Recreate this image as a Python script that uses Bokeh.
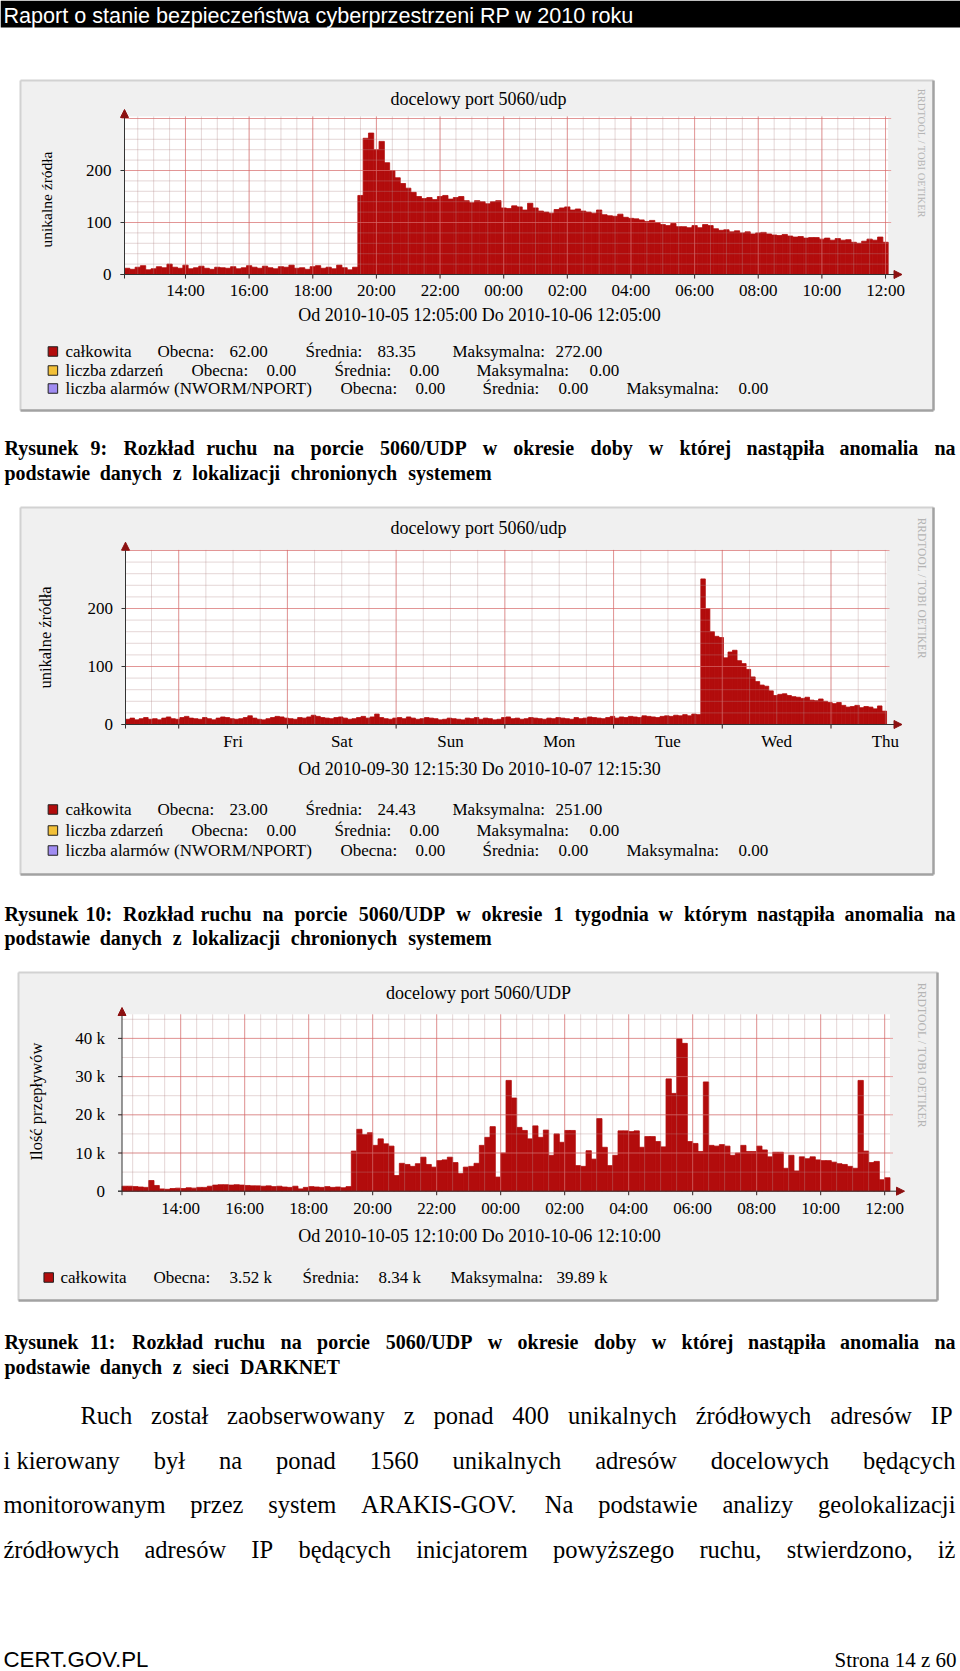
import math
from bokeh.plotting import figure
from bokeh.models import Range1d, Arrow, NormalHead
from bokeh.core.properties import value
from bokeh.embed import file_html
from bokeh.resources import INLINE

W, H = 960, 1671
SERIF = value("Liberation Serif")
SANS = value("Liberation Sans")

# ============================ DATA ============================
HEADER_TEXT = "Raport o stanie bezpieczeństwa cyberprzestrzeni RP w 2010 roku"

SERIES_NAMES = ["całkowita", "liczba zdarzeń", "liczba alarmów (NWORM/NPORT)"]

# --- chart 1: unique sources, one day, 10-minute steps from 12:05 ---
C1_TITLE = "docelowy port 5060/udp"
C1_YLABEL = "unikalne źródła"
C1_PERIOD = "Od 2010-10-05 12:05:00 Do 2010-10-06 12:05:00"
C1_START_HOUR = 12 + 5 / 60
C1_STEP_H = 10 / 60
C1_VALUES = [
    12, 10, 14, 17, 9, 11, 15, 13, 20, 14,
    12, 18, 11, 13, 16, 12, 10, 14, 13, 12,
    15, 11, 13, 17, 14, 12, 16, 13, 11, 15,
    14, 18, 12, 13, 10, 15, 17, 12, 14, 11,
    18, 13, 9, 14,
    152, 262, 272, 240, 256, 215, 200, 186, 175, 166,
    158, 150, 146, 148, 144, 150, 152, 145, 148, 150,
    142, 138, 142, 140, 136, 140, 142, 128, 127, 132,
    130, 124, 137, 128, 122, 120, 118, 125, 128, 130,
    124, 126, 122, 120, 118, 124, 115, 113, 112, 116,
    110, 108, 107, 105, 102, 104, 100, 96, 94, 98,
    92, 92, 90, 94, 90, 96, 94, 88, 85, 86,
    82, 84, 80, 82, 78, 80, 81, 78, 76, 75,
    77, 74, 72, 73, 70, 71, 71, 68, 70, 66,
    69, 66, 67, 62, 60, 64, 68, 66, 72, 62,
]
C1_XTICK_LABELS = ["14:00", "16:00", "18:00", "20:00", "22:00", "00:00",
                   "02:00", "04:00", "06:00", "08:00", "10:00", "12:00"]
C1_YTICKS = [0, 100, 200]
C1_YTICK_LABELS = ["0", "100", "200"]
C1_LEGEND = [
    [SERIES_NAMES[0], "Obecna:", "62.00", "Średnia:", "83.35", "Maksymalna:", "272.00"],
    [SERIES_NAMES[1], "Obecna:", "0.00", "Średnia:", "0.00", "Maksymalna:", "0.00"],
    [SERIES_NAMES[2], "Obecna:", "0.00", "Średnia:", "0.00", "Maksymalna:", "0.00"],
]

# --- chart 2: unique sources, one week, hourly steps from Thu 12:15:30 ---
C2_TITLE = "docelowy port 5060/udp"
C2_YLABEL = "unikalne źródła"
C2_PERIOD = "Od 2010-09-30 12:15:30 Do 2010-10-07 12:15:30"
C2_START_HOUR = 12 + 15.5 / 60
C2_STEP_H = 1.0
C2_VALUES = [
    9, 11, 8, 10, 12, 9, 10, 8, 11, 13, 10, 9, 12, 14, 11, 10, 9, 12, 10, 8, 11, 13, 12, 10,
    9, 10, 12, 15, 11, 9, 8, 10, 12, 14, 13, 11, 10, 9, 12, 11, 13, 16, 14, 12, 11, 10, 12, 13,
    11, 9, 10, 12, 14, 11, 13, 18, 12, 10, 9, 11, 12, 10, 13, 11, 9, 10, 12, 11, 10, 8, 9, 11,
    10, 9, 8, 11, 10, 12, 9, 11, 10, 8, 9, 12, 13, 10, 11, 9, 10, 12, 11, 10, 9, 11, 10, 12,
    11, 10, 9, 12, 10, 11, 13, 12, 11, 10, 12, 14, 11, 13, 12, 14, 13, 12, 15, 14, 13, 12, 14, 15,
    14, 16, 15, 17, 15, 18, 17,
    251, 200, 160, 152, 150, 115, 125, 128, 110, 105,
    95, 82, 74, 68, 66, 58, 50, 52, 53, 50,
    48, 47, 45, 47, 42, 41, 44, 40, 38, 36,
    38, 33, 30, 31, 33, 29, 31, 30, 27, 32,
    23,
]
C2_XTICK_LABELS = ["Fri", "Sat", "Sun", "Mon", "Tue", "Wed", "Thu"]
C2_YTICKS = [0, 100, 200]
C2_YTICK_LABELS = ["0", "100", "200"]
C2_LEGEND = [
    [SERIES_NAMES[0], "Obecna:", "23.00", "Średnia:", "24.43", "Maksymalna:", "251.00"],
    [SERIES_NAMES[1], "Obecna:", "0.00", "Średnia:", "0.00", "Maksymalna:", "0.00"],
    [SERIES_NAMES[2], "Obecna:", "0.00", "Średnia:", "0.00", "Maksymalna:", "0.00"],
]

# --- chart 3: flows (thousands), one day, 10-minute steps from 12:10 ---
C3_TITLE = "docelowy port 5060/UDP"
C3_YLABEL = "Ilość przepływów"
C3_PERIOD = "Od 2010-10-05 12:10:00 Do 2010-10-06 12:10:00"
C3_START_HOUR = 12 + 10 / 60
C3_STEP_H = 10 / 60
C3_VALUES = [
    1.3, 1.3, 1.2, 1.1, 1.0, 2.8, 1.5, 0.6, 0.5, 0.7,
    0.8, 0.7, 0.9, 0.8, 1.0, 1.0, 1.3, 1.6, 1.7, 1.7,
    1.6, 1.7, 1.6, 1.5, 1.4, 1.4, 1.3, 1.4, 1.2, 1.3,
    1.1, 1.0, 1.3, 0.6, 1.0, 1.2, 1.1, 1.0, 1.2, 1.0,
    1.1, 0.9, 1.2,
    10.5, 16.2, 14.8, 15.3, 12.0, 13.7, 12.4, 11.8, 4.1, 7.3, 7.0, 6.5, 7.2,
    8.9, 7.0, 6.3, 8.0, 8.2, 8.9, 7.5, 4.6, 6.3, 6.5,
    7.3, 12.0, 14.1, 16.9, 3.7, 10.0, 29.0, 24.4, 16.7, 15.9,
    13.7, 17.1, 14.1, 16.0, 9.4, 15.0, 12.8, 15.9, 15.9, 6.7,
    6.5, 10.6, 8.4, 19.0, 11.5, 6.7, 9.4, 15.8, 15.8, 15.6,
    15.8, 11.5, 14.3, 14.3, 13.0, 11.6, 29.4, 25.6, 39.89, 38.7,
    13.0, 12.5, 10.4, 28.6, 12.0, 11.8, 12.2, 11.8, 9.4, 10.0,
    12.0, 10.4, 10.4, 11.8, 10.8, 9.0, 10.2, 10.2, 6.0, 9.4,
    5.3, 9.0,
    8.5, 9.0, 8.2, 8.0, 8.0, 7.6, 7.2, 7.0, 6.5, 6.0, 29.0, 10.5, 7.5, 7.8, 3.0, 3.52,
]
C3_XTICK_LABELS = C1_XTICK_LABELS
C3_YTICKS = [0, 10, 20, 30, 40]
C3_YTICK_LABELS = ["0", "10 k", "20 k", "30 k", "40 k"]
C3_LEGEND = [
    [SERIES_NAMES[0], "Obecna:", "3.52 k", "Średnia:", "8.34 k", "Maksymalna:", "39.89 k"],
]

CAPTION_1 = ["Rysunek 9: Rozkład ruchu na porcie 5060/UDP w okresie doby w której nastąpiła anomalia na",
             "podstawie danych z lokalizacji chronionych systemem"]
CAPTION_2 = ["Rysunek 10: Rozkład ruchu na porcie 5060/UDP w okresie 1 tygodnia w którym nastąpiła anomalia na",
             "podstawie danych z lokalizacji chronionych systemem"]
CAPTION_3 = ["Rysunek 11: Rozkład ruchu na porcie 5060/UDP w okresie doby w której nastąpiła anomalia na",
             "podstawie danych z sieci DARKNET"]
BODY = ["Ruch został zaobserwowany z ponad 400 unikalnych źródłowych adresów IP",
        "i\u00a0kierowany był na ponad 1560 unikalnych adresów docelowych będących",
        "monitorowanym przez system ARAKIS-GOV. Na podstawie analizy geolokalizacji",
        "źródłowych adresów IP będących inicjatorem powyższego ruchu, stwierdzono, iż"]
FOOTER_LEFT = "CERT.GOV.PL"
FOOTER_RIGHT = "Strona 14 z 60"

# ============================ STYLE ============================
BAR_COLOR = "#b20c0c"
LEGEND_COLORS = ["#b20c0c", "#f2c038", "#a08cf2"]
CANVAS_BG = "#f0f0f0"
MINOR_GRID = "#b48c8c"
MAJOR_GRID = "#e06060"
AXIS_COLOR = "#333333"
ARROW_COLOR = "#8c1010"

# Times / Liberation Serif advance widths (1/1000 em)
def _table(spec):
    t = {}
    for group, w in spec:
        for ch in group:
            t[ch] = w
    return t

TIMES_R = _table([(" ,.\u00a0", 250), ("0123456789", 500), (":/", 278), ("-()", 333),
                  ("ADGHKNOQUVXY", 722), ("BCR", 667), ("ELTZ", 611), ("FPS", 556), ("I", 333),
                  ("J", 389), ("M", 889), ("W", 944), ("Ś", 556),
                  ("aceząćęźż", 444), ("bdghknopquvxyńó", 500), ("f", 333), ("ijltł", 278),
                  ("m", 778), ("r", 333), ("sś", 389), ("w", 722)])
TIMES_B = _table([(" ,.\u00a0", 250), ("0123456789", 500), ("/", 278), (":-", 333),
                  ("ACDNUVXY", 722), ("B", 667), ("ELTZ", 667), ("F", 611), ("P", 611),
                  ("GHKOQ", 778), ("I", 389), ("J", 500), ("M", 944), ("W", 1000), ("S", 556),
                  ("agovxyąó", 500), ("bdhknpquń", 556), ("ceźżęć", 444), ("f", 333),
                  ("iltł", 278), ("j", 333), ("m", 833), ("r", 444), ("sś", 389), ("w", 722),
                  ("z", 444)])


def word_positions(words, x0, x1, size, table):
    widths = [sum(table.get(ch, 500) for ch in w) * size / 1000 for w in words]
    if x1 is None or len(words) < 2:
        gap = 0.25 * size
    else:
        gap = (x1 - x0 - sum(widths)) / (len(words) - 1)
    xs, x = [], x0
    for w in widths:
        xs.append(x)
        x += w + gap
    return xs


def grid_times(start_hour, span, period):
    t = math.ceil(start_hour / period - 1e-9) * period - start_hour
    out = []
    while t <= span + 1e-9:
        out.append(t)
        t += period
    return out


def clock_positions(labels, start_hour):
    out = []
    for lab in labels:
        hh, mm = lab.split(":")
        out.append((int(hh) + int(mm) / 60 - start_hour) % 24)
    return out


p = figure(width=W, height=H, x_range=Range1d(0, W), y_range=Range1d(H, 0),
           x_axis_type=None, y_axis_type=None, toolbar_location=None,
           output_backend="svg", min_border=0, outline_line_color=None,
           background_fill_color="white", border_fill_color="white")

# header
p.quad(left=0, right=W, top=0, bottom=27, fill_color="black", line_color=None)
p.text(x=[3], y=[14.5], text=[HEADER_TEXT], text_color="white", text_font=SANS,
       text_font_size="21.6px", text_baseline="middle", text_align="left")

LEG_X_3 = [[65, 157, 229, 305, 377, 452, 555],
           [65, 191, 266, 334, 409, 476, 589],
           [65, 340, 415, 482, 558, 626, 738]]

charts = [
    dict(key="c1", values=C1_VALUES, step=C1_STEP_H, start=C1_START_HOUR,
         xticks=clock_positions(C1_XTICK_LABELS, C1_START_HOUR), xlabels=C1_XTICK_LABELS,
         yticks=C1_YTICKS, ylabels=C1_YTICK_LABELS, title=C1_TITLE, ylabel=C1_YLABEL,
         period=C1_PERIOD, legend=C1_LEGEND,
         box=(20, 80, 933, 410), x0=124.0, pxh=31.82, y0=274.0, pxv=0.52, ytop=304,
         minor_x=0.5, major_x=2, minor_y=20, major_y=100,
         title_y=98, ylab=(46, 199, "15.5px"), xlab_dy=16, ylab_dx=-13, period_y=314,
         leg_y=[351, 370, 388], leg_x=LEG_X_3, leg_box_x=52.4, rrd=(921, 153, "10.5px"),
         ytip=109, xtip=901.5),
    dict(key="c2", values=C2_VALUES, step=C2_STEP_H, start=C2_START_HOUR,
         xticks=[grid_times(C2_START_HOUR, 168, 24)[0] + 12 + 24 * k for k in range(len(C2_XTICK_LABELS))],
         xlabels=C2_XTICK_LABELS,
         yticks=C2_YTICKS, ylabels=C2_YTICK_LABELS, title=C2_TITLE, ylabel=C2_YLABEL,
         period=C2_PERIOD, legend=C2_LEGEND,
         box=(20, 507, 933, 874), x0=125.0, pxh=4.53, y0=724.0, pxv=0.58, ytop=301,
         minor_x=6, major_x=24, minor_y=20, major_y=100,
         title_y=527, ylab=(45, 637, "16.5px"), xlab_dy=16.5, ylab_dx=-12.5, period_y=768,
         leg_y=[809, 830, 850], leg_x=LEG_X_3, leg_box_x=52.4, rrd=(921, 588, "11.5px"),
         ytip=541.7, xtip=901.5),
    dict(key="c3", values=C3_VALUES, step=C3_STEP_H, start=C3_START_HOUR,
         xticks=clock_positions(C3_XTICK_LABELS, C3_START_HOUR), xlabels=C3_XTICK_LABELS,
         yticks=C3_YTICKS, ylabels=C3_YTICK_LABELS, title=C3_TITLE, ylabel=C3_YLABEL,
         period=C3_PERIOD, legend=C3_LEGEND,
         box=(18, 972, 937, 1300), x0=121.5, pxh=32.0, y0=1190.7, pxv=3.82, ytop=46.3,
         minor_x=0.5, major_x=2, minor_y=5, major_y=10,
         title_y=992, ylab=(36, 1101, "16.5px"), xlab_dy=17, ylab_dx=-17, period_y=1235,
         leg_y=[1277], leg_x=[[60, 153, 229, 302, 378, 450, 556]], leg_box_x=48.2,
         rrd=(921, 1055, "11.8px"), ytip=1007, xtip=904),
]

xr, yr = {}, {}
for c in charts:
    xr[c["key"] + "x"] = Range1d(start=(0 - c["x0"]) / c["pxh"], end=(W - c["x0"]) / c["pxh"])
    yr[c["key"] + "y"] = Range1d(start=(c["y0"] - H) / c["pxv"], end=c["y0"] / c["pxv"])
p.extra_x_ranges = xr
p.extra_y_ranges = yr

for c in charts:
    xn, yn = c["key"] + "x", c["key"] + "y"
    rn = dict(x_range_name=xn, y_range_name=yn)
    bx0, by0, bx1, by1 = c["box"]
    pxh, pxv = c["pxh"], c["pxv"]
    span = len(c["values"]) * c["step"]
    ytop = c["ytop"]

    # canvas box with 3D border
    p.quad(left=bx0, right=bx1, top=by0, bottom=by1, fill_color=CANVAS_BG, line_color=None)
    p.segment(x0=[bx0, bx0], y0=[by0, by0], x1=[bx1, bx0], y1=[by0, by1],
              line_color="#d2d2d2", line_width=2)
    p.segment(x0=[bx0, bx1], y0=[by1, by0], x1=[bx1, bx1], y1=[by1, by1],
              line_color="#a2a2a2", line_width=2.5)

    # plot area
    p.quad(left=0, right=span, bottom=0, top=ytop, fill_color="white", line_color=None, **rn)

    # data bars
    lefts = [i * c["step"] for i in range(len(c["values"]))]
    rights = [(i + 1) * c["step"] for i in range(len(c["values"]))]
    p.quad(left=lefts, right=rights, bottom=0, top=c["values"], fill_color=BAR_COLOR,
           line_color=BAR_COLOR, line_width=0.8, **rn)

    # grid (drawn over the data, as rrdtool does)
    mx = grid_times(c["start"], span, c["minor_x"])
    p.segment(x0=mx, y0=[0] * len(mx), x1=mx, y1=[ytop] * len(mx),
              line_color=MINOR_GRID, line_alpha=0.35, line_width=1, **rn)
    my = [c["minor_y"] * k for k in range(1, int(ytop // c["minor_y"]) + 1)]
    p.segment(x0=[0] * len(my), y0=my, x1=[span] * len(my), y1=my,
              line_color=MINOR_GRID, line_alpha=0.35, line_width=1, **rn)
    Mx = grid_times(c["start"], span, c["major_x"])
    p.segment(x0=Mx, y0=[-4 / pxv] * len(Mx), x1=Mx, y1=[ytop] * len(Mx),
              line_color=MAJOR_GRID, line_alpha=0.55, line_width=1, **rn)
    My = [c["major_y"] * k for k in range(1, int(ytop // c["major_y"]) + 1)]
    p.segment(x0=[-3 / pxh] * len(My), y0=My, x1=[span + 3 / pxh] * len(My), y1=My,
              line_color=MAJOR_GRID, line_alpha=0.55, line_width=1, **rn)

    # tick marks
    p.segment(x0=Mx, y0=[0] * len(Mx), x1=Mx, y1=[-4 / pxv] * len(Mx),
              line_color=AXIS_COLOR, line_width=1, **rn)
    p.segment(x0=[-4 / pxh] * len(c["yticks"]), y0=c["yticks"], x1=[0] * len(c["yticks"]),
              y1=c["yticks"], line_color=AXIS_COLOR, line_width=1, **rn)

    # axes with arrows
    p.add_layout(Arrow(x_start=-4 / pxh, y_start=0, x_end=(c["xtip"] - c["x0"]) / pxh, y_end=0,
                       line_color=AXIS_COLOR, line_width=1,
                       end=NormalHead(size=8, fill_color=ARROW_COLOR, line_color=ARROW_COLOR),
                       **rn))
    p.add_layout(Arrow(x_start=0, y_start=-4 / pxv, x_end=0, y_end=(c["y0"] - c["ytip"]) / pxv,
                       line_color=AXIS_COLOR, line_width=1,
                       end=NormalHead(size=8, fill_color=ARROW_COLOR, line_color=ARROW_COLOR),
                       **rn))

    # tick labels
    p.text(x=c["xticks"], y=[0] * len(c["xticks"]), text=c["xlabels"], y_offset=c["xlab_dy"],
           text_align="center", text_baseline="middle", text_font=SERIF,
           text_font_size="17px", text_color="black", **rn)
    p.text(x=[0] * len(c["yticks"]), y=c["yticks"], text=c["ylabels"], x_offset=c["ylab_dx"],
           text_align="right", text_baseline="middle", text_font=SERIF,
           text_font_size="17px", text_color="black", **rn)

    # title, axis label, period, watermark
    p.text(x=[478], y=[c["title_y"]], text=[c["title"]], text_align="center",
           text_baseline="middle", text_font=SERIF, text_font_size="18px", text_color="black")
    lx, ly, ls = c["ylab"]
    p.text(x=[lx], y=[ly], text=[c["ylabel"]], angle=math.pi / 2, text_align="center",
           text_baseline="middle", text_font=SERIF, text_font_size=ls, text_color="black")
    p.text(x=[479], y=[c["period_y"]], text=[c["period"]], text_align="center",
           text_baseline="middle", text_font=SERIF, text_font_size="18px", text_color="black")
    rx, ry, rs = c["rrd"]
    p.text(x=[rx], y=[ry], text=["RRDTOOL / TOBI OETIKER"], angle=-math.pi / 2,
           text_align="center", text_baseline="middle", text_font=SERIF,
           text_font_size=rs, text_color="#b4b4b4")

    # legend
    for r, row in enumerate(c["legend"]):
        yy = c["leg_y"][r]
        p.rect(x=[c["leg_box_x"]], y=[yy], width=9.5, height=9.5,
               fill_color=LEGEND_COLORS[r], line_color="#202020", line_width=1)
        p.text(x=c["leg_x"][r], y=[yy] * len(row), text=row, text_align="left",
               text_baseline="middle", text_font=SERIF, text_font_size="17px",
               text_color="black")

# captions (justified bold) and body text (justified regular)
CAP_SIZE = 20
BODY_SIZE = 24.5
text_lines = [
    (CAPTION_1[0], 447.5, 4, 955, CAP_SIZE, True),
    (CAPTION_1[1], 472.5, 4, 490, CAP_SIZE, True),
    (CAPTION_2[0], 913.0, 4, 955, CAP_SIZE, True),
    (CAPTION_2[1], 937.6, 4, 490, CAP_SIZE, True),
    (CAPTION_3[0], 1341.7, 4, 955, CAP_SIZE, True),
    (CAPTION_3[1], 1366.0, 4, 335, CAP_SIZE, True),
    (BODY[0], 1414.8, 80, 952, BODY_SIZE, False),
    (BODY[1], 1459.5, 3, 955, BODY_SIZE, False),
    (BODY[2], 1504.0, 3, 955, BODY_SIZE, False),
    (BODY[3], 1549.0, 3, 955, BODY_SIZE, False),
]
for line, yy, x0, x1, size, bold in text_lines:
    words = line.split(" ")
    xs = word_positions(words, x0, x1, size, TIMES_B if bold else TIMES_R)
    p.text(x=xs, y=[yy] * len(words), text=words, text_align="left", text_baseline="middle",
           text_font=SERIF, text_font_style="bold" if bold else "normal",
           text_font_size=f"{size}px", text_color="black")

# footer
p.text(x=[3], y=[1658.5], text=[FOOTER_LEFT], text_align="left", text_baseline="middle",
       text_font=SANS, text_font_size="22.3px", text_color="black")
p.text(x=[956], y=[1659], text=[FOOTER_RIGHT], text_align="right", text_baseline="middle",
       text_font=SERIF, text_font_size="21px", text_color="black")

open("out.html", "w").write(file_html(p, INLINE))
